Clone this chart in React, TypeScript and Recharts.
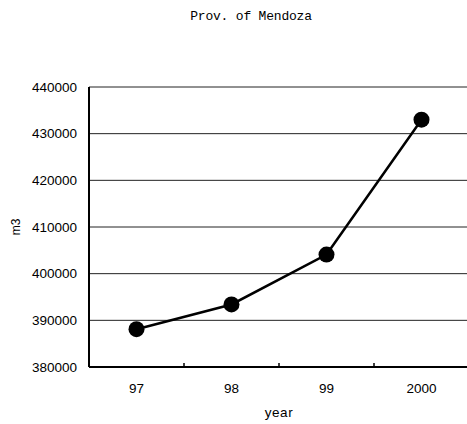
import { ComposedChart, Line, XAxis, YAxis, CartesianGrid } from 'recharts'

const YEARS = ['97', '98', '99', '2000']
const VOLUME_M3 = [388100, 393400, 404100, 433000]
const Y_TICKS = [380000, 390000, 400000, 410000, 420000, 430000, 440000]

const data = YEARS.map((year, i) => ({ year, volume: VOLUME_M3[i] }))

const AXIS_FONT = { fontSize: 13.5, fontFamily: '"Liberation Sans", Arial, sans-serif', fill: '#000' }
const X_GAP = 16

// label under the category, plus the small inward tick at the band's right edge
function YearTick(props: any) {
  const { x, y, payload, index } = props
  const half = payload.offset ?? 0
  const axisY = y - X_GAP
  return (
    <g>
      <text x={x} y={y} dy="0.71em" textAnchor="middle" style={AXIS_FONT}>
        {payload.value}
      </text>
      {index < YEARS.length - 1 && half > 0 && (
        <line x1={x + half} x2={x + half} y1={axisY} y2={axisY - 4} stroke="#000" strokeWidth={1.5} />
      )}
    </g>
  )
}

export default function App() {
  return (
    <div style={{ position: 'absolute', left: 0, top: 0, width: 467, height: 424, overflow: 'hidden', background: '#fff' }}>
      <div
        style={{
          position: 'absolute',
          left: 0,
          top: 9,
          width: 502,
          textAlign: 'center',
          fontFamily: '"Liberation Mono", "DejaVu Sans Mono", monospace',
          fontSize: 13,
          letterSpacing: -0.2,
          color: '#000',
        }}
      >
        Prov. of Mendoza
      </div>
      <ComposedChart width={470} height={424} data={data} margin={{ top: 87, right: 1, left: 0, bottom: 0 }}>
        <CartesianGrid vertical={false} stroke="#222" strokeWidth={1} />
        <XAxis
          dataKey="year"
          scale="band"
          height={57}
          tickLine={false}
          tickSize={0}
          tickMargin={X_GAP}
          axisLine={{ stroke: '#000', strokeWidth: 2 }}
          tick={<YearTick />}
          label={{
            value: 'year',
            position: 'insideBottom',
            offset: 7,
            style: { ...AXIS_FONT, letterSpacing: 0.6 },
          }}
        />
        <YAxis
          width={89}
          domain={[380000, 440000]}
          ticks={Y_TICKS}
          interval={0}
          tickLine={false}
          tickSize={0}
          tickMargin={12}
          axisLine={{ stroke: '#000', strokeWidth: 2 }}
          tick={AXIS_FONT}
          label={{
            value: 'm3',
            angle: -90,
            position: 'insideLeft',
            offset: 16,
            style: { ...AXIS_FONT, fontSize: 12, textAnchor: 'middle' },
          }}
        />
        <Line
          dataKey="volume"
          stroke="#000"
          strokeWidth={2.5}
          dot={{ r: 8, fill: '#000', stroke: '#000', strokeWidth: 0 }}
          activeDot={false}
          isAnimationActive={false}
        />
      </ComposedChart>
    </div>
  )
}
